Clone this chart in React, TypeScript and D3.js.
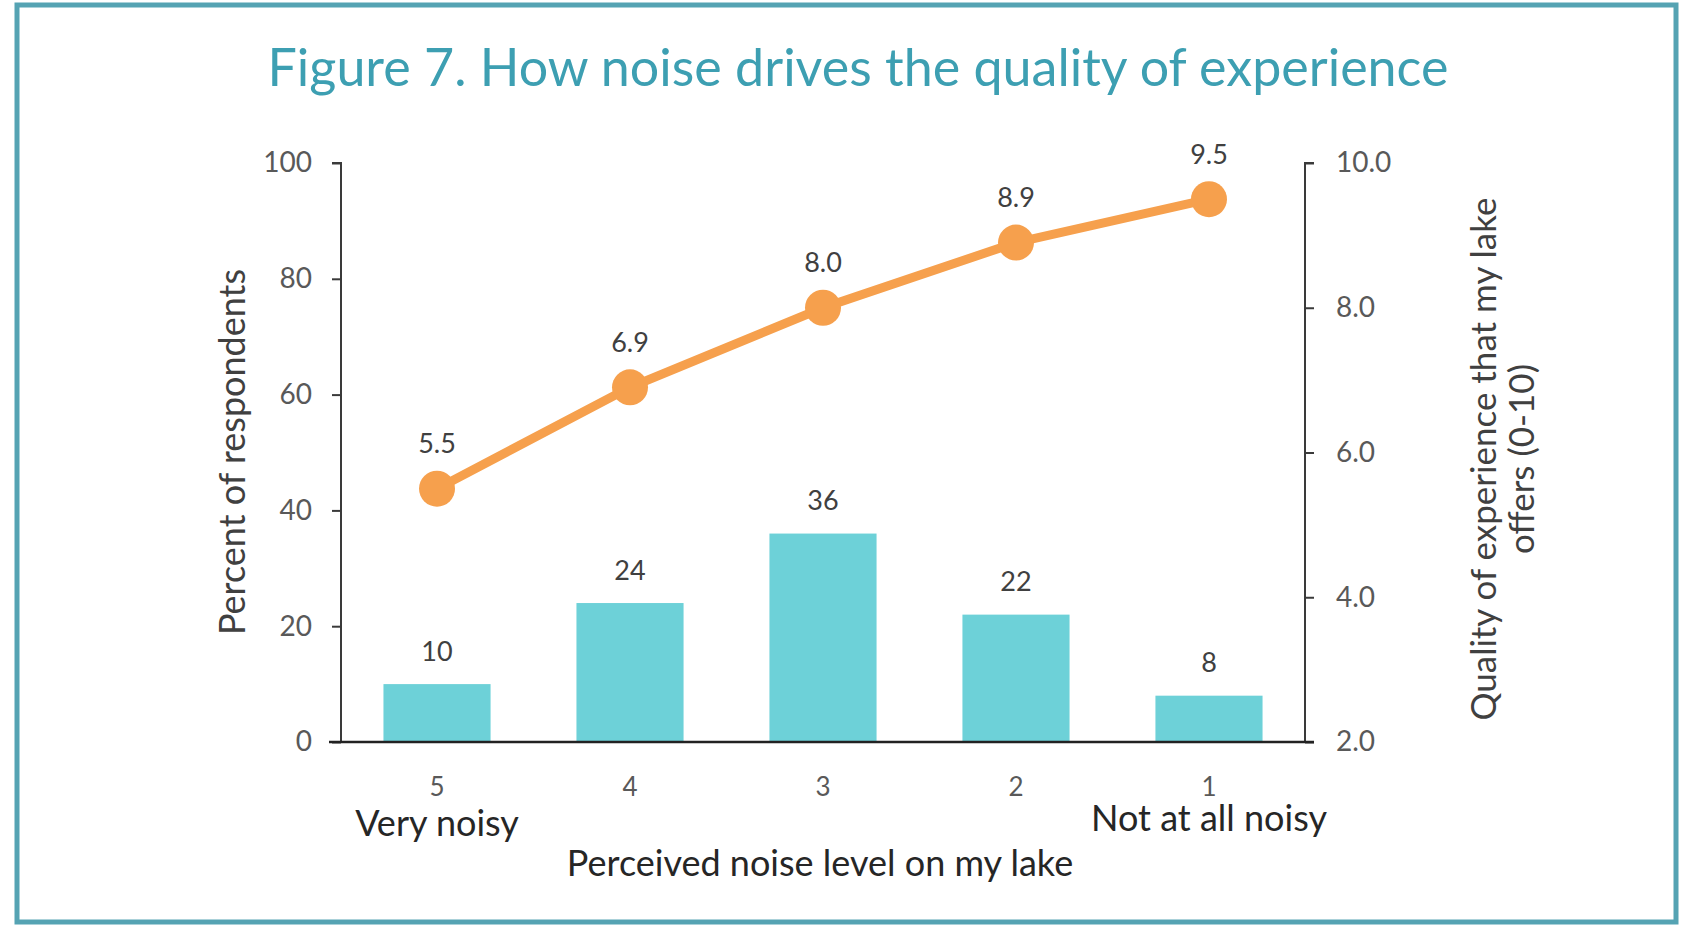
import React, { useEffect, useRef } from "react";
import * as d3 from "d3";

const levels = ["5", "4", "3", "2", "1"];
const percentRespondents = [10, 24, 36, 22, 8];
const qualityScores = [5.5, 6.9, 8.0, 8.9, 9.5];
const leftTicks = [0, 20, 40, 60, 80, 100];
const rightTicks = [2, 4, 6, 8, 10];

const W = 1686;
const H = 926;
const FONT = "Lato, 'Open Sans', sans-serif";

const App = () => {
  const ref = useRef<SVGSVGElement | null>(null);

  useEffect(() => {
    const svg = d3.select(ref.current);
    svg.selectAll("*").remove();

    const left = 341;
    const right = 1305;
    const top = 163;
    const bottom = 742;

    const x = d3.scaleBand().domain(levels).range([left, right]).paddingInner(0.445).paddingOuter(0.22);
    const yL = d3.scaleLinear().domain([0, 100]).range([bottom, top]);
    const yR = d3.scaleLinear().domain([2, 10]).range([bottom, top]);

    // frame
    svg
      .append("rect")
      .attr("x", 17)
      .attr("y", 5)
      .attr("width", 1659)
      .attr("height", 917)
      .attr("fill", "#fff")
      .attr("stroke", "#55a3b3")
      .attr("stroke-width", 5);

    svg
      .append("text")
      .attr("x", 858)
      .attr("y", 86)
      .attr("text-anchor", "middle")
      .style("font-family", FONT)
      .style("font-size", "52px")
      .style("fill", "#3d9fb2")
      .text("Figure 7. How noise drives the quality of experience");

    // bars
    svg
      .selectAll("rect.bar")
      .data(percentRespondents)
      .enter()
      .append("rect")
      .attr("class", "bar")
      .attr("x", (d, i) => x(levels[i])!)
      .attr("width", x.bandwidth())
      .attr("y", (d) => yL(d))
      .attr("height", (d) => bottom - yL(d))
      .attr("fill", "#6dd1d8");

    svg
      .selectAll("text.barlab")
      .data(percentRespondents)
      .enter()
      .append("text")
      .attr("class", "barlab")
      .attr("x", (d, i) => x(levels[i])! + x.bandwidth() / 2)
      .attr("y", (d) => yL(d) - 34)
      .attr("text-anchor", "middle")
      .attr("dominant-baseline", "central")
      .style("font-family", FONT)
      .style("font-size", "27px")
      .style("fill", "#404040")
      .text((d) => d);

    // axes
    const axisColor = "#3a3a3a";
    const gL = svg.append("g").attr("transform", `translate(${left},0)`).call(d3.axisLeft(yL).tickValues(leftTicks).tickSize(9).tickPadding(20));
    const gR = svg.append("g").attr("transform", `translate(${right},0)`).call(d3.axisRight(yR).tickValues(rightTicks).tickSize(9).tickPadding(22).tickFormat(d3.format(".1f")));
    [gL, gR].forEach((g) => {
      g.select(".domain").attr("stroke", axisColor).attr("stroke-width", 2).attr("d", (g === gL ? `M-9,${top}H0V${bottom}` : `M9,${top}H0V${bottom}`));
      g.selectAll(".tick line").attr("stroke", axisColor).attr("stroke-width", 2);
      g.selectAll(".tick text").style("font-family", FONT).style("font-size", "28px").style("fill", "#595959");
    });
    svg
      .append("line")
      .attr("x1", left - 12)
      .attr("x2", right + 9)
      .attr("y1", bottom)
      .attr("y2", bottom)
      .attr("stroke", "#222")
      .attr("stroke-width", 2.5);

    // line series
    const cx = (i: number) => x(levels[i])! + x.bandwidth() / 2;
    const line = d3
      .line<number>()
      .x((d, i) => cx(i))
      .y((d) => yR(d));
    svg
      .append("path")
      .datum(qualityScores)
      .attr("d", line)
      .attr("fill", "none")
      .attr("stroke", "#f6a04d")
      .attr("stroke-width", 9);
    svg
      .selectAll("circle.pt")
      .data(qualityScores)
      .enter()
      .append("circle")
      .attr("class", "pt")
      .attr("cx", (d, i) => cx(i))
      .attr("cy", (d) => yR(d))
      .attr("r", 18)
      .attr("fill", "#f6a04d");
    svg
      .selectAll("text.ptlab")
      .data(qualityScores)
      .enter()
      .append("text")
      .attr("class", "ptlab")
      .attr("x", (d, i) => cx(i))
      .attr("y", (d) => yR(d) - 46)
      .attr("text-anchor", "middle")
      .attr("dominant-baseline", "central")
      .style("font-family", FONT)
      .style("font-size", "27px")
      .style("fill", "#404040")
      .text((d) => d.toFixed(1));

    // category labels
    svg
      .selectAll("text.cat")
      .data(levels)
      .enter()
      .append("text")
      .attr("class", "cat")
      .attr("x", (d) => x(d)! + x.bandwidth() / 2)
      .attr("y", 786)
      .attr("text-anchor", "middle")
      .attr("dominant-baseline", "central")
      .style("font-family", FONT)
      .style("font-size", "26px")
      .style("fill", "#595959")
      .text((d) => d);

    const txt = (s: string, tx: number, ty: number, size: number, rot = 0) =>
      svg
        .append("text")
        .attr("transform", `translate(${tx},${ty}) rotate(${rot})`)
        .attr("text-anchor", "middle")
        .attr("dominant-baseline", "central")
        .style("font-family", FONT)
        .style("font-size", `${size}px`)
        .style("fill", "#262626")
        .text(s);

    txt("Very noisy", cx(0), 822, 36);
    txt("Not at all noisy", cx(4), 817, 36);
    txt("Perceived noise level on my lake", 820, 862, 36);
    txt("Percent of respondents", 231, 452, 36, -90).style("fill", "#404040");
    txt("Quality of experience that my lake", 1482, 459, 35, -90).style("fill", "#404040");
    txt("offers (0-10)", 1520, 459, 35, -90).style("fill", "#404040");
  }, []);

  return <svg ref={ref} width={W} height={H} style={{ display: "block", position: "absolute", left: 0, top: 0 }} />;
};

export default App;
